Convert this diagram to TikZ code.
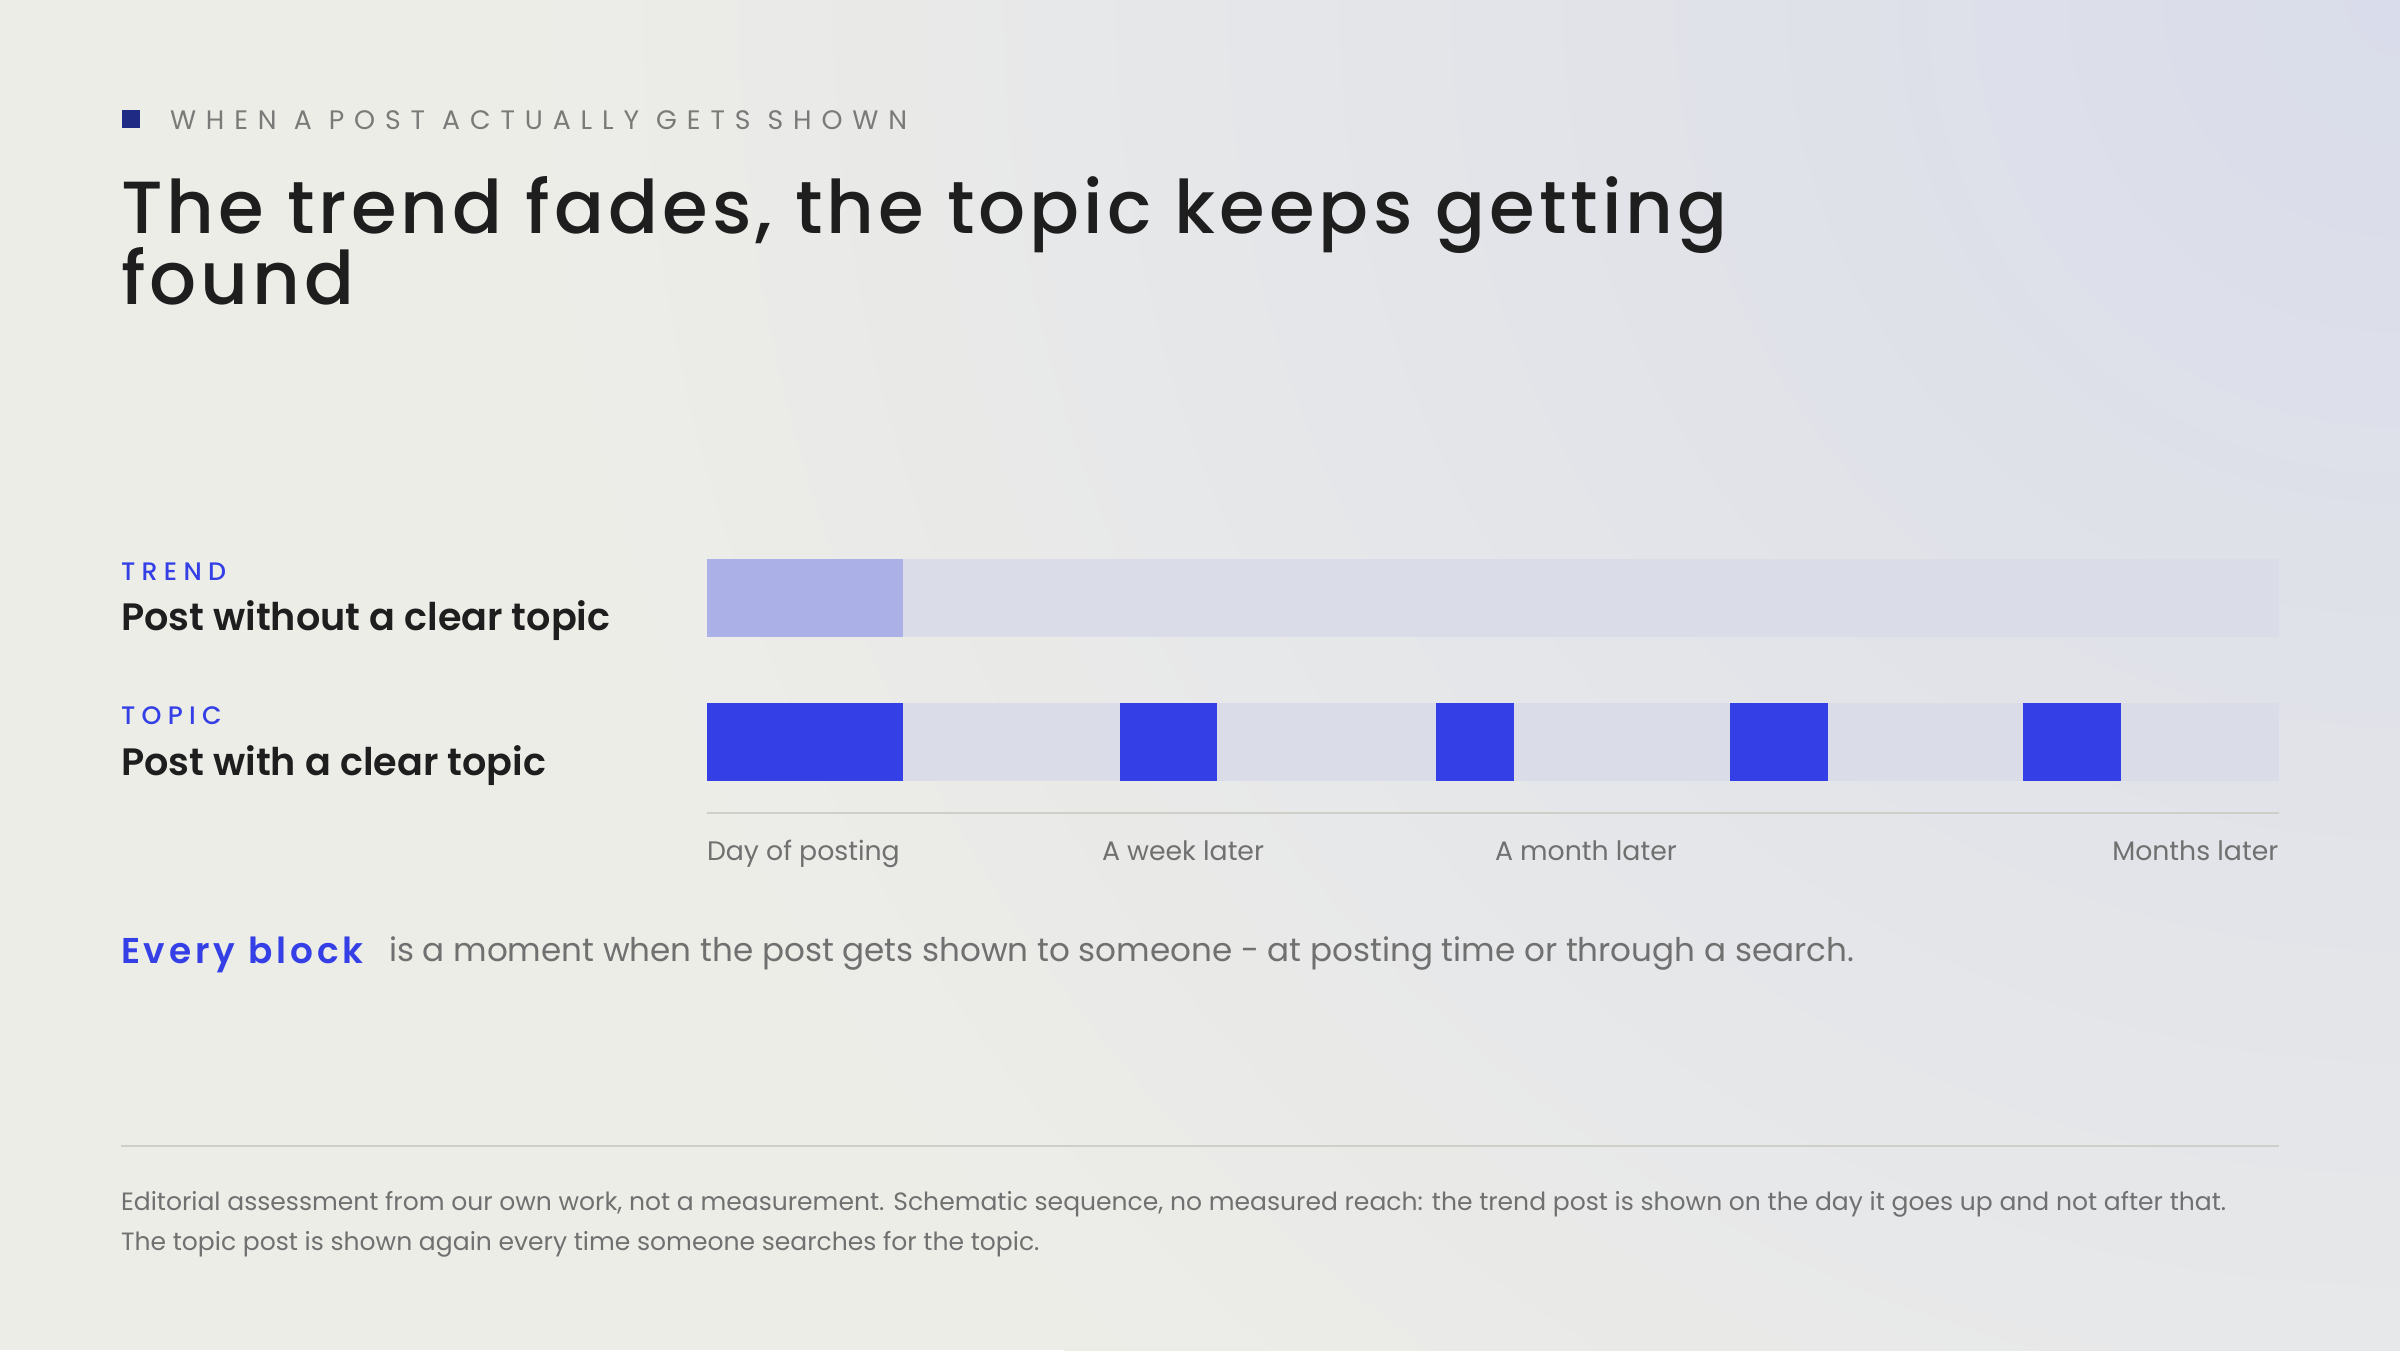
\documentclass[tikz,border=0pt]{standalone}
\usepackage{fontspec}
\setmainfont{Poppins}
\newfontfamily\hdrfont{Poppins}[LetterSpace=37]
\newfontfamily\titlefont{Poppins Medium}[LetterSpace=5.4]
\newfontfamily\semifont{Poppins SemiBold}
\newfontfamily\tagfont{Poppins Medium}[LetterSpace=25]
\newfontfamily\everyfont{Poppins SemiBold}[LetterSpace=11]
\definecolor{bg}{HTML}{EDEDE8}
\definecolor{lav}{HTML}{D9DCEA}
\definecolor{navy}{HTML}{1F2A85}
\definecolor{hdrgray}{HTML}{7A7A78}
\definecolor{ink}{HTML}{1E1E1E}
\definecolor{accent}{HTML}{3440E6}
\definecolor{faint}{HTML}{ABB0E7}
\definecolor{track}{HTML}{DADCE8}
\definecolor{rulec}{HTML}{CFCFCA}
\definecolor{txtgray}{HTML}{707070}
\tikzset{
  lbl/.style={inner sep=0pt, outer sep=0pt, anchor=base west},
  trackbar/.style={fill=track, draw=none},
  hitbar/.style={fill=accent, draw=none},
  fadebar/.style={fill=faint, draw=none},
  rulel/.style={draw=rulec, line width=2.2pt*0.2845},
}
\begin{document}
\begin{tikzpicture}[x=0.01cm, y=-0.01cm]
\useasboundingbox (0,0) rectangle (2400,1350);
\fill[bg] (0,0) rectangle (2400,1350);
\begin{scope}
\clip (0,0) rectangle (2400,1350);
\shade[inner color=lav, outer color=bg] (2400,0) circle (1900);
\end{scope}
% header
\node[fill=navy, minimum width=5.12pt, minimum height=5.12pt, inner sep=0pt, anchor=north west] (sq) at (121,109) {};
\node[lbl, text=hdrgray] (hdr) at (170,129) {\hdrfont\fontsize{7.6}{9}\selectfont WHEN A POST ACTUALLY GETS SHOWN};
\node[lbl, text=ink] (t1) at (121,233) {\titlefont\fontsize{21}{26}\selectfont The trend fades, the topic keeps getting};
\node[lbl, text=ink] (t2) at (121,304) {\titlefont\fontsize{21}{26}\selectfont found};
% row labels
\node[lbl, text=accent] (tag1) at (121,580) {\tagfont\fontsize{7.2}{8}\selectfont TREND};
\node[lbl, text=ink] (row1) at (121,630) {\semifont\fontsize{10.85}{13}\selectfont Post without a clear topic};
\node[lbl, text=accent] (tag2) at (121,724) {\tagfont\fontsize{7.2}{8}\selectfont TOPIC};
\node[lbl, text=ink] (row2) at (121,775) {\semifont\fontsize{10.85}{13}\selectfont Post with a clear topic};
% bars
\path[trackbar] (707,559) rectangle (2279,637);
\path[fadebar] (707,559) rectangle (903,637);
\path[trackbar] (707,703) rectangle (2279,781);
\path[hitbar] (707,703) rectangle (903,781);
\path[hitbar] (1120,703) rectangle (1217,781);
\path[hitbar] (1436,703) rectangle (1514,781);
\path[hitbar] (1730,703) rectangle (1828,781);
\path[hitbar] (2023,703) rectangle (2121,781);
% axis
\coordinate (axL) at (707,813);
\coordinate (axR) at (2279,813);
\draw[rulel] (axL) -- (axR);
\node[lbl, text=txtgray] (a1) at (707,860) {\fontsize{7.6}{9}\selectfont Day of posting};
\node[lbl, text=txtgray] (a2) at (1102,860) {\fontsize{7.6}{9}\selectfont A week later};
\node[lbl, text=txtgray] (a3) at (1495,860) {\fontsize{7.6}{9}\selectfont A month later};
\node[inner sep=0pt, anchor=base east, text=txtgray] (a4) at (2279,860) {\fontsize{7.6}{9}\selectfont Months later};
% note
\node[lbl, text=accent] (every) at (121,963) {\everyfont\fontsize{10.2}{12}\selectfont Every block};
\node[lbl, text=txtgray] (moment) at (389,961) {\fontsize{9.27}{11}\selectfont is a moment when the post gets shown to someone - at posting time or through a search.};
% footer
\coordinate (sepL) at (121,1146);
\coordinate (sepR) at (2279,1146);
\draw[rulel] (sepL) -- (sepR);
\node[lbl, text=txtgray] (f1) at (121,1210) {\fontsize{7.12}{8}\selectfont Editorial assessment from our own work, not a measurement. Schematic sequence, no measured reach: the trend post is shown on the day it goes up and not after that.};
\node[lbl, text=txtgray] (f2) at (121,1250) {\fontsize{7.12}{8}\selectfont The topic post is shown again every time someone searches for the topic.};
\end{tikzpicture}
\end{document}
